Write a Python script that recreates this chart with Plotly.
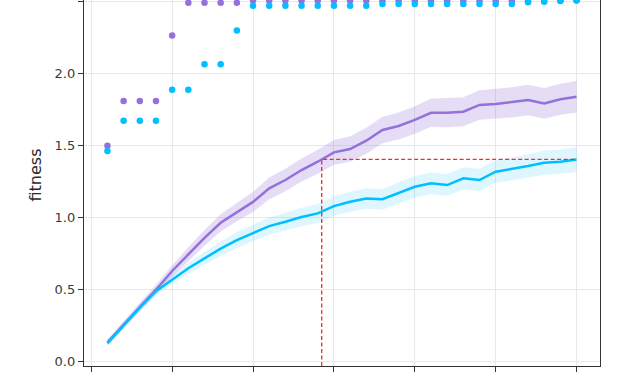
import numpy as np
import plotly.graph_objects as go

generations = list(range(1, 31))

# mean fitness curves
mean_purple = [0.13, 0.255, 0.375, 0.495, 0.625, 0.74, 0.855, 0.96, 1.035, 1.105,
               1.199, 1.257, 1.326, 1.384, 1.449, 1.472, 1.530, 1.604, 1.632, 1.674,
               1.724, 1.724, 1.731, 1.778, 1.785, 1.796, 1.812, 1.789, 1.818, 1.835]
mean_cyan = [0.123, 0.25, 0.37, 0.485, 0.565, 0.644, 0.713, 0.78, 0.84, 0.89,
             0.937, 0.967, 1.0, 1.025, 1.076, 1.106, 1.129, 1.123, 1.169, 1.21,
             1.234, 1.222, 1.269, 1.257, 1.315, 1.333, 1.354, 1.377, 1.384, 1.40]

# confidence half-widths
err_purple = [0.02, 0.025, 0.03, 0.035, 0.04, 0.05, 0.055, 0.06, 0.065, 0.07,
              0.075, 0.078, 0.08, 0.083, 0.086, 0.088, 0.09, 0.092, 0.094, 0.096,
              0.098, 0.1, 0.1, 0.102, 0.104, 0.105, 0.106, 0.107, 0.108, 0.11]
err_cyan = [0.02, 0.022, 0.025, 0.028, 0.032, 0.038, 0.045, 0.05, 0.055, 0.058,
            0.06, 0.062, 0.064, 0.066, 0.068, 0.07, 0.071, 0.072, 0.073, 0.074,
            0.075, 0.076, 0.077, 0.078, 0.079, 0.08, 0.082, 0.084, 0.085, 0.087]

# best fitness dots
best_purple = [1.495, 1.806, 1.806, 1.806, 2.26, 2.488, 2.488, 2.488, 2.488] + [2.503] * 21
best_cyan = [1.458, 1.669, 1.669, 1.669, 1.884, 1.884, 2.06, 2.06, 2.296] + [2.467] * 8 \
    + [2.479] * 9 + [2.491, 2.495, 2.5, 2.505]

x_ticks = [0, 5, 10, 15, 20, 25, 30]
y_ticks = [0.0, 0.5, 1.0, 1.5, 2.0, 2.5]
y_tick_labels = ["0.0", "0.5", "1.0", "1.5", "2.0", "2.5"]

PURPLE = "rgb(147,112,219)"
CYAN = "rgb(0,191,255)"
x_range = [-0.45, 31.45]
y_range = [-0.0347, 2.507]

fig = go.Figure()

def band(mean, err, fill):
    up = [m + e for m, e in zip(mean, err)]
    lo = [m - e for m, e in zip(mean, err)]
    fig.add_trace(go.Scatter(x=generations + generations[::-1], y=up + lo[::-1],
                             fill="toself", fillcolor=fill, line=dict(width=0),
                             mode="lines", hoverinfo="skip", showlegend=False))

band(mean_purple, err_purple, "rgba(147,112,219,0.24)")
band(mean_cyan, err_cyan, "rgba(0,191,255,0.13)")

fig.add_trace(go.Scatter(x=generations, y=mean_purple, mode="lines",
                         line=dict(color=PURPLE, width=2.5), showlegend=False))
fig.add_trace(go.Scatter(x=generations, y=mean_cyan, mode="lines",
                         line=dict(color=CYAN, width=2.5), showlegend=False))

# red dashed reference: where purple reaches cyan's final mean
target = mean_cyan[-1]
x_cross = float(np.interp(target, mean_purple, generations))
fig.add_trace(go.Scatter(x=[x_cross, x_cross, generations[-1]],
                         y=[y_range[0], target, target], mode="lines",
                         line=dict(color="rgb(250,40,40)", width=1.3, dash="4px,2.5px"),
                         showlegend=False))

fig.add_trace(go.Scatter(x=generations, y=best_purple, mode="markers",
                         marker=dict(color=PURPLE, size=6.5, line=dict(width=0)),
                         cliponaxis=False, showlegend=False))
fig.add_trace(go.Scatter(x=generations, y=best_cyan, mode="markers",
                         marker=dict(color=CYAN, size=6.5, line=dict(width=0)),
                         cliponaxis=False, showlegend=False))

axis_font = dict(family="DejaVu Sans", size=13, color="#3a3a3a")
fig.update_layout(
    width=627, height=376,
    margin=dict(l=84, r=27, t=0, b=10),
    paper_bgcolor="white", plot_bgcolor="white",
    xaxis=dict(range=x_range, tickvals=x_ticks, showticklabels=False,
               automargin=False,
               showgrid=True, gridcolor="#e8e8e8", gridwidth=1, zeroline=False,
               showline=True, linecolor="#333333", linewidth=1.3,
               ticks="outside", ticklen=5, tickcolor="#333333", tickwidth=1.2),
    yaxis=dict(range=y_range, tickvals=y_ticks, ticktext=y_tick_labels,
               automargin=False,
               showgrid=True, gridcolor="#e8e8e8", gridwidth=1, zeroline=False,
               showline=True, linecolor="#333333", linewidth=1.3, mirror=True,
               ticks="outside", ticklen=5, tickcolor="#333333", tickwidth=1.2,
               tickfont=axis_font),
    annotations=[dict(text="fitness", xref="paper", yref="paper",
                      x=(34.5 - 84) / 516, y=(366 - 175) / 366,
                      xanchor="center", yanchor="middle", textangle=-90,
                      showarrow=False,
                      font=dict(family="DejaVu Sans", size=16, color="#2a2a2a"))],
)

fig.write_html("out.html")
